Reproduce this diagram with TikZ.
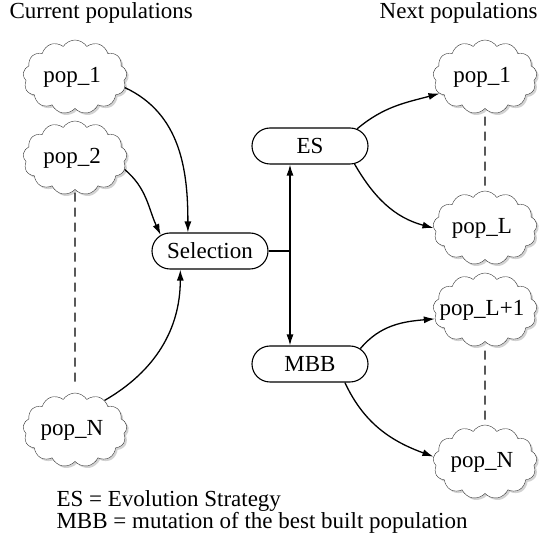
\documentclass[tikz,border=0pt]{standalone}
\usepackage{fontspec}
\setmainfont{Liberation Serif}
\usetikzlibrary{arrows.meta,shapes.symbols,shapes.misc,shadows}

\newcommand{\popname}[1]{\makebox[0pt]{\hspace*{-6pt}pop\_#1}}

\begin{document}
\begin{tikzpicture}[
x=1pt, y=-1pt,
font=\fontsize{23}{27}\selectfont,
    pop/.style = {cloud, draw=black!80, cloud puffs=13, cloud puff arc=115,% populations as clouds
                  cloud ignores aspect, minimum width=104pt, minimum height=74pt,
                  inner sep=0pt, fill=white,
                  drop shadow={shadow xshift=2pt, shadow yshift=-2pt, fill=black!35}},
     op/.style = {rounded rectangle, draw, line width=1.1pt,% operators
                  minimum width=116pt, minimum height=36pt, inner sep=0pt},
   link/.style = {-{Latex[length=11pt,width=7pt]}, line width=1.3pt},
    gap/.style = {draw=black, dash pattern=on 9pt off 6pt, line width=1.2pt},
                        ]
\useasboundingbox (0,0) rectangle (542,537);
% current populations
\node[anchor=west] (cur) at (6,13) {Current populations};
\node[pop] (c1) at (75,77)  {\popname{1}};
\node[pop] (c2) at (75,158) {\popname{2}};
\node[pop] (cN) at (75,430) {\popname{N}};
\draw[gap, shorten <=3pt, shorten >=11pt] (c2.south) -- (cN.north);
% operators
\node[op] (sel) at (210,251) {Selection};
\node[op] (es)  at (310,146) {ES};
\node[op] (mbb) at (310,364) {MBB};
\draw[link] (c1.-12) to[out=-25, in=90]  (sel.140);
\draw[link] (c2.-13) to[out=-40, in=115] (sel.162);
\draw[link] (cN.45)  to[out=30,  in=-90] (sel.212);
\draw[{Latex[length=11pt,width=7pt]}-{Latex[length=11pt,width=7pt]}, line width=1.3pt]
    ([xshift=-20pt]es.south) coordinate (t) -- ([xshift=-20pt]mbb.north);
\draw[line width=1.3pt] (sel.east) -- (sel.east -| t);
% next populations
\node[anchor=east] (nxt) at (541,13) {Next populations};
\node[pop] (n1)  at (485,77)  {\popname{1}};
\node[pop] (nL)  at (485,228) {\popname{L}};
\node[pop] (nL1) at (485,310) {\popname{L+1}};
\node[pop] (nN)  at (485,462) {\popname{N}};
\draw[gap, shorten <=8pt, shorten >=3pt] (n1.south) -- (nL.north);
\draw[gap, shorten <=9pt, shorten >=4pt] (nL1.south) -- (nN.north);
\draw[link] (es.20)   to[out=40,  in=195] (n1.200);
\draw[link] (es.-22)  to[out=-60, in=165] (nL.180);
\draw[link] (mbb.17)  to[out=50,  in=185] (nL1.190);
\draw[link] (mbb.-28) to[out=-65, in=160] (nN.174);
% legend
\node[anchor=base west] (leg1) at (53,507) {ES = Evolution Strategy};
\node[anchor=base west] (leg2) at (53,529) {MBB = mutation of the best built population};
\end{tikzpicture}
\end{document}
